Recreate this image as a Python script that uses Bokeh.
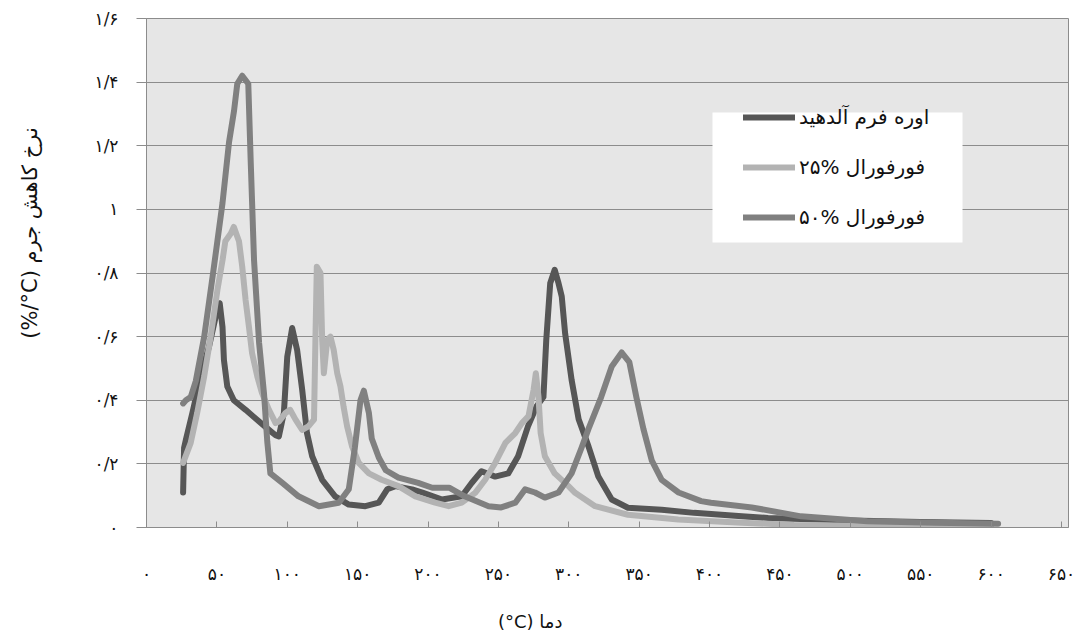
from bokeh.plotting import figure
from bokeh.models import FixedTicker, Legend, LegendItem, BoxAnnotation, Range1d
from bokeh.embed import file_html
from bokeh.resources import INLINE

# ---- data (temperature in °C, rate of mass loss in %/°C) ----
uf_x = [26, 26.7, 28, 32.6, 38.5, 44.5, 49, 52, 54, 55, 57.4, 62, 70.4, 80, 87, 91.7, 94, 97.6,
        100, 103.5, 107, 110.6, 114, 117.7, 124.8, 134, 143.7, 155.5, 165, 171, 176.8, 188.7,
        196, 210, 224, 231, 238, 247.7, 257, 264, 271, 277, 282, 284, 286.8, 290, 292.7, 295,
        297.4, 302, 307, 314, 321, 330.5, 342, 366, 389, 423, 441.6, 500, 550, 600]
uf_y = [0.11, 0.25, 0.276, 0.36, 0.475, 0.57, 0.66, 0.705, 0.63, 0.527, 0.443, 0.40, 0.37, 0.333,
        0.307, 0.29, 0.286, 0.36, 0.537, 0.627, 0.558, 0.433, 0.297, 0.224, 0.15, 0.098, 0.072,
        0.067, 0.078, 0.12, 0.13, 0.12, 0.11, 0.088, 0.098, 0.14, 0.177, 0.16, 0.17, 0.224, 0.318,
        0.38, 0.41, 0.59, 0.768, 0.81, 0.768, 0.726, 0.61, 0.464, 0.34, 0.255, 0.16, 0.088, 0.062,
        0.056, 0.046, 0.035, 0.03, 0.022, 0.017, 0.014]

f25_x = [26, 31.4, 36, 41, 45.6, 50.4, 54, 56, 60, 62, 65.7, 68, 70.4, 72.8, 75, 78.7, 82, 87,
         91.7, 94, 98.8, 102, 105.9, 110.6, 115, 119, 120, 121, 123.6, 124.8, 126, 128.4, 130.7,
         133, 135.5, 137.8, 140, 142.5, 146, 150.8, 158, 167, 179, 191, 205, 214.7, 224, 233.5,
         240.6, 247.7, 255, 262, 266.7, 271.4, 275, 276.6, 278.5, 280, 283, 290, 299.8, 304.5,
         318.7, 342, 377.8, 423, 460, 520, 600]
f25_y = [0.203, 0.266, 0.36, 0.475, 0.60, 0.747, 0.84, 0.90, 0.925, 0.945, 0.90, 0.82, 0.715,
         0.63, 0.548, 0.475, 0.423, 0.37, 0.328, 0.333, 0.36, 0.37, 0.339, 0.307, 0.318, 0.339,
         0.59, 0.82, 0.80, 0.59, 0.485, 0.59, 0.60, 0.558, 0.485, 0.443, 0.38, 0.318, 0.255,
         0.203, 0.17, 0.15, 0.13, 0.098, 0.078, 0.067, 0.078, 0.109, 0.15, 0.203, 0.266, 0.297,
         0.328, 0.35, 0.433, 0.485, 0.41, 0.297, 0.224, 0.17, 0.13, 0.109, 0.067, 0.04, 0.025,
         0.015, 0.008, 0.005, 0.003]

f50_x = [26, 28, 31.4, 35, 41, 47, 54, 58.6, 62.2, 64.5, 68, 72.3, 74, 76.4, 80, 83.5, 85.8, 88,
         96.5, 108, 122.5, 136.6, 143.7, 148, 152, 154.4, 158, 160, 165, 170, 179, 193, 203, 215,
         226, 243, 252, 262, 269, 276, 283, 292.7, 302, 309, 314, 323, 330.5, 337.6, 343, 348,
         353, 359, 366, 378, 394, 401, 430, 465, 512, 560, 605]
f50_y = [0.39, 0.40, 0.41, 0.46, 0.60, 0.79, 1.02, 1.21, 1.31, 1.395, 1.42, 1.395, 1.155, 0.84,
         0.58, 0.42, 0.27, 0.17, 0.14, 0.098, 0.067, 0.078, 0.12, 0.25, 0.40, 0.43, 0.36, 0.28,
         0.22, 0.18, 0.157, 0.14, 0.125, 0.125, 0.098, 0.067, 0.063, 0.078, 0.12, 0.11, 0.094,
         0.11, 0.17, 0.25, 0.31, 0.41, 0.506, 0.55, 0.52, 0.41, 0.31, 0.21, 0.15, 0.11, 0.083,
         0.078, 0.063, 0.035, 0.02, 0.015, 0.012]

# logical Persian order; displays as "۲۵% فورفورال"
series_names = ["اوره فرم آلدهید", "فورفورال %۲۵", "فورفورال %۵۰"]

x_ticks = [0, 50, 100, 150, 200, 250, 300, 350, 400, 450, 500, 550, 600, 650]
x_tick_labels = ["۰", "۵۰", "۱۰۰", "۱۵۰", "۲۰۰", "۲۵۰", "۳۰۰", "۳۵۰", "۴۰۰", "۴۵۰",
                 "۵۰۰", "۵۵۰", "۶۰۰", "۶۵۰"]
y_ticks = [0.0, 0.2, 0.4, 0.6, 0.8, 1.0, 1.2, 1.4, 1.6]
y_tick_labels = ["۰", "۰/۲", "۰/۴", "۰/۶", "۰/۸", "۱", "۱/۲", "۱/۴", "۱/۶"]

x_title = "(°C) دما"
y_title = "(%/°C) نرخ کاهش جرم"

# ---- styles ----
FONT = "DejaVu Sans"
colors = ["#565656", "#b3b3b3", "#808080"]
NBSP = "\u00a0"
LRE, PDF = "\u202a", "\u202c"

p = figure(width=1078, height=634, output_backend="svg", toolbar_location=None,
           x_range=Range1d(0, 655), y_range=Range1d(0, 1.6),
           min_border_left=146, min_border_right=10, min_border_top=18, min_border_bottom=106)

p.background_fill_color = "#e6e6e6"
p.border_fill_color = "white"
p.outline_line_color = "#8c8c8c"
p.outline_line_width = 1

p.xgrid.grid_line_color = None
p.ygrid.grid_line_color = "#8c8c8c"
p.ygrid.grid_line_width = 1
p.ygrid.ticker = FixedTicker(ticks=y_ticks)

p.xaxis.ticker = FixedTicker(ticks=x_ticks)
p.xaxis.major_label_overrides = {t: l for t, l in zip(x_ticks, x_tick_labels)}
p.xaxis.major_tick_in = 6
p.xaxis.major_tick_out = 0
p.xaxis.minor_tick_line_color = None
p.xaxis.major_label_standoff = 36
p.xaxis.axis_line_color = "#8c8c8c"
p.xaxis.major_tick_line_color = "#8c8c8c"
p.xaxis.major_label_text_font = FONT
p.xaxis.major_label_text_font_size = "17px"
p.xaxis.major_label_text_color = "#111111"
# trailing no-break spaces move the centred title to the left, as in the original
p.xaxis.axis_label = LRE + x_title + NBSP * 27 + PDF
p.xaxis.axis_label_standoff = 24
p.xaxis.axis_label_text_font = FONT
p.xaxis.axis_label_text_font_size = "18px"
p.xaxis.axis_label_text_font_style = "normal"
p.xaxis.axis_label_text_color = "#111111"

p.yaxis.ticker = FixedTicker(ticks=y_ticks)
p.yaxis.major_label_overrides = {t: l for t, l in zip(y_ticks, y_tick_labels)}
p.yaxis.major_tick_in = 0
p.yaxis.major_tick_out = 10
p.yaxis.minor_tick_line_color = None
p.yaxis.major_label_standoff = 18
p.yaxis.axis_line_color = "#8c8c8c"
p.yaxis.major_tick_line_color = "#8c8c8c"
p.yaxis.major_label_text_font = FONT
p.yaxis.major_label_text_font_size = "17px"
p.yaxis.major_label_text_color = "#111111"
p.yaxis.axis_label = LRE + NBSP * 12 + y_title + PDF
p.yaxis.axis_label_standoff = 50
p.yaxis.axis_label_text_font = FONT
p.yaxis.axis_label_text_font_size = "21px"
p.yaxis.axis_label_text_font_style = "normal"
p.yaxis.axis_label_text_color = "#111111"

renderers = []
for xs, ys, c in zip([uf_x, f25_x, f50_x], [uf_y, f25_y, f50_y], colors):
    r = p.line(xs, ys, line_color=c, line_width=6, line_cap="round", line_join="round")
    renderers.append(r)

# white legend panel
p.add_layout(BoxAnnotation(left=566, right=816, bottom=285, top=415,
                           left_units="screen", right_units="screen",
                           bottom_units="screen", top_units="screen",
                           fill_color="white", fill_alpha=1.0, line_color=None))

legend = Legend(items=[LegendItem(label=n, renderers=[r]) for n, r in zip(series_names, renderers)],
                location=(597, 298), margin=0, padding=0, spacing=26,
                glyph_width=52, glyph_height=20, label_height=20, label_standoff=4,
                background_fill_alpha=0, border_line_alpha=0,
                label_text_font=FONT, label_text_font_size="20px", label_text_color="#111111")
p.add_layout(legend)

open("out.html", "w").write(file_html(p, INLINE))
